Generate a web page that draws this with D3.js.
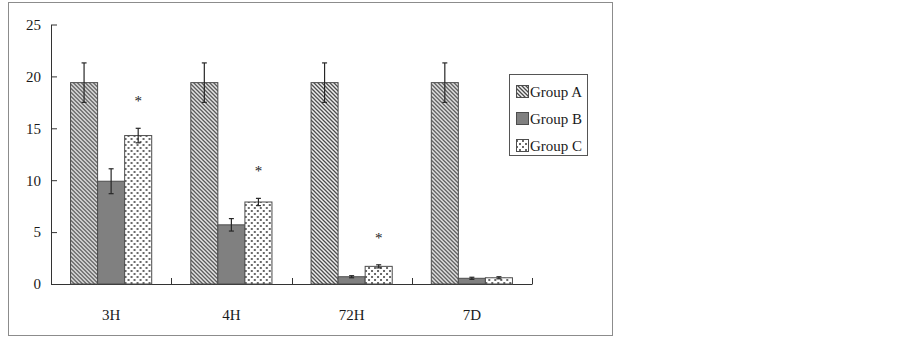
<!DOCTYPE html>
<html>
<head>
<meta charset="utf-8">
<script src="https://cdn.jsdelivr.net/npm/d3@7"></script>
<style>
  body { margin: 0; background: #fff; }
  svg text { font-family: "Liberation Serif", "Times New Roman", serif; fill: #1a1a1a; }
</style>
</head>
<body>
<div id="chart"></div>
<script>
var categories = ["3H", "4H", "72H", "7D"];
var groups = ["Group A", "Group B", "Group C"];
var groupA = [19.4, 19.4, 19.4, 19.4];
var groupB = [9.9, 5.7, 0.7, 0.55];
var groupC = [14.3, 7.9, 1.7, 0.6];
var errA = [1.9, 1.9, 1.9, 1.9];
var errB = [1.2, 0.6, 0.1, 0.1];
var errC = [0.7, 0.35, 0.15, 0.1];
var starC = [true, true, true, false];
var yTicks = [0, 5, 10, 15, 20, 25];

var width = 903, height = 338;
var svg = d3.select("#chart").append("svg")
    .attr("width", width)
    .attr("height", height);

// patterns
var defs = svg.append("defs");
var pA = defs.append("pattern")
    .attr("id", "hatchA")
    .attr("patternUnits", "userSpaceOnUse")
    .attr("width", 4).attr("height", 4);
pA.append("rect").attr("width", 4).attr("height", 4).attr("fill", "#f2f2f2");
pA.append("path")
    .attr("d", "M-1,-1 L5,5 M-1,3 L1,5 M3,-1 L5,1")
    .attr("stroke", "#4a4a4a")
    .attr("stroke-width", 1.3);

var pC = defs.append("pattern")
    .attr("id", "dotsC")
    .attr("patternUnits", "userSpaceOnUse")
    .attr("width", 6).attr("height", 6);
pC.append("rect").attr("width", 6).attr("height", 6).attr("fill", "#fff");
pC.append("rect").attr("x", 0).attr("y", 0).attr("width", 2).attr("height", 2).attr("fill", "#6a6a6a");
pC.append("rect").attr("x", 3).attr("y", 3).attr("width", 2).attr("height", 2).attr("fill", "#6a6a6a");

var fills = ["url(#hatchA)", "#808080", "url(#dotsC)"];

// outer frame
svg.append("rect")
    .attr("x", 8.5).attr("y", 2.5)
    .attr("width", 604).attr("height", 333)
    .attr("fill", "none")
    .attr("stroke", "#8c8c8c");

var y = d3.scaleLinear().domain([0, 25]).range([284, 24.5]);
var x0 = d3.scaleBand().domain(categories).range([51, 532]).padding(0);
var groupW = x0.bandwidth() * 0.675;
var x1 = d3.scaleBand().domain(groups).range([0, groupW]).padding(0);

var rows = categories.map(function (c, i) {
    return {
        cat: c,
        vals: [
            { g: "Group A", v: groupA[i], e: errA[i], star: false },
            { g: "Group B", v: groupB[i], e: errB[i], star: false },
            { g: "Group C", v: groupC[i], e: errC[i], star: starC[i] }
        ]
    };
});

// y axis
var yAxis = svg.append("g")
    .attr("transform", "translate(51,0)")
    .call(d3.axisLeft(y).tickValues(yTicks).tickSizeInner(-6).tickSizeOuter(0).tickPadding(10));
yAxis.selectAll("path, line").attr("stroke", "#333");
yAxis.selectAll("text").style("font-size", "15px").attr("fill", "#1a1a1a")
    .style("font-family", "'Liberation Serif', serif");

// x axis
var xAxis = svg.append("g")
    .attr("transform", "translate(0,284)")
    .call(d3.axisBottom(x0).tickSize(0).tickPadding(25));
xAxis.select(".domain").attr("stroke", "#333");
xAxis.selectAll("text").style("font-size", "15px").attr("fill", "#1a1a1a")
    .style("font-family", "'Liberation Serif', serif");

// category divider ticks
svg.append("g").selectAll("line")
    .data(categories)
    .enter().append("line")
    .attr("x1", function (d) { return Math.round(x0(d) + x0.bandwidth()) + 0.5; })
    .attr("x2", function (d) { return Math.round(x0(d) + x0.bandwidth()) + 0.5; })
    .attr("y1", 284).attr("y2", 278)
    .attr("stroke", "#333");

// bars
var cat = svg.append("g").selectAll("g")
    .data(rows)
    .enter().append("g")
    .attr("transform", function (d) {
        return "translate(" + (x0(d.cat) + (x0.bandwidth() - groupW) / 2) + ",0)";
    });

cat.selectAll("rect")
    .data(function (d) { return d.vals; })
    .enter().append("rect")
    .attr("x", function (d) { return x1(d.g); })
    .attr("y", function (d) { return y(d.v); })
    .attr("width", x1.bandwidth())
    .attr("height", function (d) { return y(0) - y(d.v); })
    .attr("fill", function (d, i) { return fills[i]; })
    .attr("stroke", "#4d4d4d")
    .attr("stroke-width", 1);

// error bars
var eb = cat.selectAll("g.err")
    .data(function (d) { return d.vals; })
    .enter().append("g")
    .attr("class", "err")
    .attr("stroke", "#262626")
    .attr("stroke-width", 1.2);
eb.append("line")
    .attr("x1", function (d) { return x1(d.g) + x1.bandwidth() / 2; })
    .attr("x2", function (d) { return x1(d.g) + x1.bandwidth() / 2; })
    .attr("y1", function (d) { return y(d.v + d.e); })
    .attr("y2", function (d) { return y(d.v - d.e); });
eb.append("line")
    .attr("x1", function (d) { return x1(d.g) + x1.bandwidth() / 2 - 2.5; })
    .attr("x2", function (d) { return x1(d.g) + x1.bandwidth() / 2 + 2.5; })
    .attr("y1", function (d) { return y(d.v + d.e); })
    .attr("y2", function (d) { return y(d.v + d.e); });
eb.append("line")
    .attr("x1", function (d) { return x1(d.g) + x1.bandwidth() / 2 - 2.5; })
    .attr("x2", function (d) { return x1(d.g) + x1.bandwidth() / 2 + 2.5; })
    .attr("y1", function (d) { return y(d.v - d.e); })
    .attr("y2", function (d) { return y(d.v - d.e); });

// significance stars
cat.selectAll("text.star")
    .data(function (d) { return d.vals.filter(function (v) { return v.star; }); })
    .enter().append("text")
    .attr("class", "star")
    .attr("x", function (d) { return x1(d.g) + x1.bandwidth() / 2; })
    .attr("y", function (d) { return y(d.v + d.e) - 22; })
    .attr("text-anchor", "middle")
    .style("font-size", "15px")
    .text("*");

// legend
var legend = svg.append("g");
legend.append("rect")
    .attr("x", 509.5).attr("y", 74.5)
    .attr("width", 78).attr("height", 81)
    .attr("fill", "#fff")
    .attr("stroke", "#555");
var li = legend.selectAll("g.item")
    .data(groups)
    .enter().append("g")
    .attr("class", "item")
    .attr("transform", function (d, i) { return "translate(516," + (92 + i * 27) + ")"; });
li.append("rect")
    .attr("x", 0.5).attr("y", -6.5)
    .attr("width", 12).attr("height", 12)
    .attr("fill", function (d, i) { return fills[i]; })
    .attr("stroke", "#4d4d4d");
li.append("text")
    .attr("x", 14)
    .attr("y", 0)
    .attr("dy", "0.35em")
    .style("font-size", "15px")
    .text(function (d) { return d; });
</script>
</body>
</html>
